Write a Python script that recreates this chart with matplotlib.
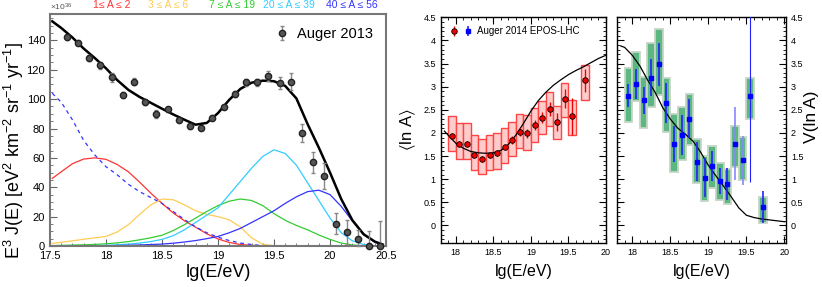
import matplotlib
matplotlib.use('Agg')
import matplotlib.pyplot as plt
from matplotlib.legend_handler import HandlerTuple
from matplotlib.ticker import MultipleLocator

plt.rcParams['font.family'] = ['Liberation Sans', 'DejaVu Sans']
plt.rcParams['mathtext.default'] = 'regular'

# ---- left panel: spectrum data (units of 1e36) ----
lge_flux = [17.65, 17.75, 17.85, 17.95, 18.05, 18.15, 18.25, 18.35, 18.45,
            18.55, 18.65, 18.75, 18.85, 18.95, 19.05, 19.15, 19.25, 19.35,
            19.45, 19.55, 19.65, 19.75, 19.85, 19.95, 20.05, 20.15, 20.25,
            20.35, 20.45]
flux = [142, 138.5, 128, 123, 115, 103, 112, 98, 90, 93, 86, 81.5, 80.5,
        87.5, 94.5, 103.5, 111.5, 111.5, 116, 111, 112, 77, 57, 47.7, 15.2,
        9.5, 5, 0, 0]
flux_err_lo = [1.5, 1.5, 2, 2.5, 3, 2, 2.5, 2, 2.5, 1.5, 1.5, 1.5, 1.5, 1.5,
               1.5, 2, 2.5, 2.5, 3.5, 4, 5.5, 6, 7, 9, 7, 8, 5, 0, 0]
flux_err_hi = [1.5, 1.5, 2, 2.5, 3, 2, 2.5, 2, 2.5, 1.5, 1.5, 1.5, 1.5, 1.5,
               1.5, 2, 2.5, 2.5, 3.5, 4, 5.5, 6, 7, 9, 7, 8, 6, 10, 17]

# model curves
lge_model = [17.52, 17.6, 17.7, 17.8, 17.9, 18.0, 18.1, 18.2, 18.3, 18.4,
             18.5, 18.6, 18.7, 18.8, 18.9, 19.0, 19.1, 19.2, 19.3, 19.4,
             19.5, 19.6, 19.7, 19.8, 19.9, 20.0, 20.1, 20.2, 20.3, 20.4,
             20.47]
model_total = [153, 148.5, 142, 134.5, 128, 121, 113, 106.3, 101.5, 97.5,
               93.5, 89.6, 86, 82.6, 83.8, 90.5, 99.5, 107, 111.2, 112.6,
               112.2, 109, 100.5, 83, 67, 50, 32, 17.5, 8, 3, 1]
model_a1_2 = [46, 50.5, 56, 59.2, 60, 59, 55.5, 50.5, 43.5, 36, 29, 22.5,
              17.2, 12.8, 8.3, 4.8, 2.4, 1.0, 0.4, 0.1, 0, 0, 0, 0, 0, 0, 0,
              0, 0, 0, 0]
model_a3_6 = [1.8, 2.5, 3.5, 4.6, 5.5, 6.5, 9.5, 14.5, 21.5, 28, 32, 31.5,
              28, 24, 21.5, 20, 17.8, 13, 5.5, 1.2, 0.2, 0, 0, 0, 0, 0, 0, 0,
              0, 0, 0]
model_a7_19 = [0.3, 0.4, 0.6, 0.8, 1.1, 1.5, 2.1, 3, 4.2, 5.6, 7.3, 10.5,
               14.5, 19, 23.5, 27.5, 30.5, 32, 31, 27.5, 22, 17.5, 14, 11,
               7.5, 4.5, 2, 0.7, 0.1, 0, 0]
model_a20_39 = [0, 0, 0.1, 0.2, 0.3, 0.5, 0.8, 1.3, 2, 3, 4.5, 7, 11, 16, 21,
                26, 35, 44, 53, 61, 65.5, 63, 55, 43, 31, 19, 9, 3.5, 1, 0.2,
                0]
model_a40_56 = [0, 0, 0, 0, 0.1, 0.2, 0.3, 0.5, 0.7, 1, 1.3, 1.9, 2.7, 3.7,
                5, 6.5, 9, 12, 16, 20, 24, 29, 33.5, 37, 38, 35, 27, 17, 8,
                2.5, 0.8]
model_dashed = [104, 98, 86, 72, 62, 54, 48.5, 42, 37, 33, 29, 23.5, 18, 13,
                9, 6, 3.7, 2, 1, 0.3, 0]

group_labels = ['1\u2264 A \u2264 2', '3 \u2264 A \u2264 6',
                '7 \u2264 A \u2264 19', '20 \u2264 A \u2264 39',
                '40 \u2264 A \u2264 56']
group_colors = ['#ff3333', '#ffcc55', '#33cc33', '#33ccff', '#3333ff']

# ---- middle / right panels: <lnA> and V(lnA) ----
lge_xmax = [17.95, 18.05, 18.15, 18.25, 18.35, 18.45, 18.55, 18.65, 18.75,
            18.85, 18.95, 19.05, 19.15, 19.25, 19.35, 19.45, 19.55, 19.72]
lna = [1.93, 1.76, 1.77, 1.52, 1.44, 1.52, 1.57, 1.70, 1.85, 2.02, 1.99,
       2.17, 2.33, 2.52, 2.24, 2.74, 2.36, 3.14]
lna_stat = [0.07, 0.06, 0.06, 0.06, 0.07, 0.07, 0.07, 0.07, 0.08, 0.08,
            0.1, 0.1, 0.12, 0.15, 0.2, 0.2, 0.4, 0.25]
lna_sys_hi = [2.37, 2.21, 2.21, 1.95, 1.87, 1.95, 1.99, 2.10, 2.24, 2.40,
              2.38, 2.53, 2.68, 2.88, 2.58, 3.07, 2.71, 3.47]
lna_sys_lo = [1.61, 1.43, 1.43, 1.20, 1.11, 1.20, 1.23, 1.36, 1.51, 1.68,
              1.64, 1.81, 1.97, 2.15, 1.86, 2.35, 1.95, 2.71]

vlna = [2.80, 3.06, 2.71, 3.19, 3.48, 2.64, 1.76, 1.96, 2.31, 1.38, 1.03,
        1.28, 0.96, 0.90, 1.77, 1.41, 2.80, 0.40]
vlna_stat_lo = [0.25, 0.32, 0.29, 0.4, 0.46, 0.43, 0.39, 0.43, 0.43, 0.42,
                0.42, 0.33, 0.29, 0.34, 0.78, 0.53, 1.86, 0.34]
vlna_stat_hi = [0.25, 0.32, 0.29, 0.4, 0.46, 0.43, 0.39, 0.43, 0.43, 0.42,
                0.42, 0.33, 0.29, 0.34, 0.78, 0.53, 2.5, 0.34]
vlna_sys_hi = [3.41, 3.74, 3.22, 3.94, 4.25, 3.18, 2.41, 2.57, 2.84, 1.86,
               1.50, 1.72, 1.34, 1.23, 2.15, 1.92, 3.18, 0.62]
vlna_sys_lo = [2.24, 2.69, 2.11, 2.55, 2.82, 2.03, 1.16, 1.41, 1.74, 0.91,
               0.53, 0.80, 0.55, 0.46, 1.27, 0.98, 2.31, 0.06]

lge_fit = [17.85, 17.9, 18.0, 18.1, 18.2, 18.3, 18.4, 18.5, 18.6, 18.7,
           18.8, 18.9, 19.0, 19.1, 19.2, 19.3, 19.4, 19.5, 19.6, 19.7, 19.8,
           19.9, 20.0]
lna_fit = [2.04, 1.95, 1.78, 1.67, 1.60, 1.57, 1.56, 1.57, 1.62, 1.75, 1.95,
           2.20, 2.47, 2.70, 2.88, 3.03, 3.15, 3.26, 3.35, 3.43, 3.52, 3.61,
           3.68]
vlna_fit = [3.88, 3.85, 3.68, 3.45, 3.15, 2.88, 2.55, 2.30, 2.10, 1.97, 1.82,
            1.58, 1.30, 1.07, 0.85, 0.62, 0.38, 0.22, 0.17, 0.14, 0.12, 0.10,
            0.08]


def root_ticks(ax, color='k'):
    ax.tick_params(which='both', direction='in', color=color)
    ax.tick_params(which='major', length=5, width=0.8)
    ax.tick_params(which='minor', length=2.5, width=0.6)


fig = plt.figure(figsize=(8.22, 2.87), dpi=100)
ax1 = fig.add_axes([0.0608, 0.1429, 0.4088, 0.8084])
ax2 = fig.add_axes([0.5361, 0.1533, 0.2011, 0.7864])
ax3 = fig.add_axes([0.7506, 0.1533, 0.2056, 0.7864])

# left panel
models = [model_a1_2, model_a3_6, model_a7_19, model_a20_39, model_a40_56]
for vals, col in zip(models, group_colors):
    ax1.plot(lge_model, vals, color=col, lw=0.9)
ax1.plot(lge_model[:len(model_dashed)], model_dashed, color='#3333ff',
         lw=0.9, ls=(0, (3, 3)))
ax1.plot(lge_model, model_total, color='k', lw=1.8)
h_flux = ax1.errorbar(lge_flux, flux, yerr=[flux_err_lo, flux_err_hi],
                      fmt='o', color='#555555', mec='#222222', ms=4.5,
                      ecolor='#888888', elinewidth=1, capsize=1.5,
                      clip_on=False, zorder=5)
ax1.set_xlim(17.5, 20.5)
ax1.set_ylim(0, 158)
ax1.xaxis.set_major_locator(MultipleLocator(0.5))
ax1.xaxis.set_minor_locator(MultipleLocator(0.1))
ax1.yaxis.set_major_locator(MultipleLocator(20))
ax1.yaxis.set_minor_locator(MultipleLocator(5))
ax1.set_xticks([17.5, 18, 18.5, 19, 19.5, 20, 20.5],
               ['17.5', '18', '18.5', '19', '19.5', '20', '20.5'])
root_ticks(ax1, '#666666')
ax1.tick_params(labelsize=8)
for sp in ax1.spines.values():
    sp.set_color('#777777')
    sp.set_linewidth(1.5)
ax1.set_xlabel('lg(E/eV)', fontsize=13, labelpad=2)
fig.text(14 / 822, 1 - 150 / 287,
         r'E$^{3}$ J(E) [eV$^{2}$ km$^{-2}$ sr$^{-1}$ yr$^{-1}$]',
         rotation=90, fontsize=13, ha='center', va='center')
ax1.legend([h_flux], ['Auger 2013'], loc='upper right', frameon=False,
           fontsize=10.5, handlelength=1.0, handletextpad=0.5,
           bbox_to_anchor=(1.0, 1.0))
fig.text(50 / 822, 1 - 7 / 287, r'$\times$10$^{36}$', fontsize=6,
         color='#555555', va='center', ha='left')
label_x = [112, 168, 232, 289, 352]
for lab, col, xp in zip(group_labels, group_colors, label_x):
    fig.text(xp / 822, 1 - 5 / 287, lab, color=col, fontsize=7.5,
             ha='center', va='center')

# middle panel
ax2.bar(lge_xmax, [h - l for h, l in zip(lna_sys_hi, lna_sys_lo)],
        bottom=lna_sys_lo, width=0.1, color='#ffcccc', edgecolor='#ff4444',
        lw=1.0, zorder=2)
ax2.plot(lge_fit, lna_fit, color='k', lw=0.9, zorder=3)
h_red = ax2.errorbar(lge_xmax, lna, yerr=lna_stat, fmt='o', color='#ee0000',
                     mec='k', mew=0.6, ms=4, ecolor='#ee0000', elinewidth=1,
                     zorder=4)

# right panel
ax3.bar(lge_xmax, [h - l for h, l in zip(vlna_sys_hi, vlna_sys_lo)],
        bottom=vlna_sys_lo, width=0.1, color='#5bb883', edgecolor='#c5d5c5',
        lw=1.3, zorder=2)
ax3.plot(lge_fit, vlna_fit, color='k', lw=0.9, zorder=3)
h_blue = ax3.errorbar(lge_xmax, vlna, yerr=[vlna_stat_lo, vlna_stat_hi],
                      fmt='s', color='#0000ff', ms=3.5, ecolor='#2222ff',
                      elinewidth=1.2, zorder=4)
# the last high-energy bars are drawn fainter / thinner
bar_cols = ['#2222ff'] * len(vlna)
bar_cols[14] = bar_cols[15] = '#8888ff'
bar_lw = [1.2] * len(vlna)
bar_lw[16] = 0.8
h_blue[2][0].set_color(bar_cols)
h_blue[2][0].set_linewidth(bar_lw)

for ax in (ax2, ax3):
    ax.set_ylim(-0.38, 4.5)
    ax.xaxis.set_major_locator(MultipleLocator(0.5))
    ax.xaxis.set_minor_locator(MultipleLocator(0.1))
    ax.yaxis.set_major_locator(MultipleLocator(0.5))
    ax.yaxis.set_minor_locator(MultipleLocator(0.1))
    root_ticks(ax)
    ax.tick_params(which='both', top=True, right=True, left=True,
                   labelsize=6.5)
    ax.set_xlabel('lg(E/eV)', fontsize=11.5, labelpad=5)
    for sp in ax.spines.values():
        sp.set_linewidth(1.0)
ax2.set_xlim(17.8, 20.0)
ax3.set_xlim(17.8, 20.02)
ax2.set_xticks([18, 18.5, 19, 19.5, 20], ['18', '18.5', '19', '19.5', '20'])
ax3.set_xticks([18, 18.5, 19, 19.5, 20], ['18', '18.5', '19', '19.5', '20'])
ax2.set_yticks([0, 0.5, 1, 1.5, 2, 2.5, 3, 3.5, 4, 4.5],
               ['0', '0.5', '1', '1.5', '2', '2.5', '3', '3.5', '4', '4.5'])
ax3.set_yticks([0, 0.5, 1, 1.5, 2, 2.5, 3, 3.5, 4, 4.5],
               ['0', '0.5', '1', '1.5', '2', '2.5', '3', '3.5', '4', '4.5'])
ax3.tick_params(labelleft=False, labelright=True)
ax2.set_ylabel(r'$\langle$ln A$\rangle$', fontsize=12, labelpad=4)
fig.text(811 / 822, 1 - 117 / 287, 'V(ln A)', rotation=90, fontsize=12.5,
         ha='center', va='center')

ax2.legend([(h_red, h_blue)], ['Auger 2014 EPOS-LHC'], loc='upper left',
           handler_map={tuple: HandlerTuple(ndivide=None, pad=0.6)},
           frameon=False, fontsize=7, handlelength=2.3, handletextpad=0.5,
           borderaxespad=0.5)

fig.savefig('out.png', dpi=100)
